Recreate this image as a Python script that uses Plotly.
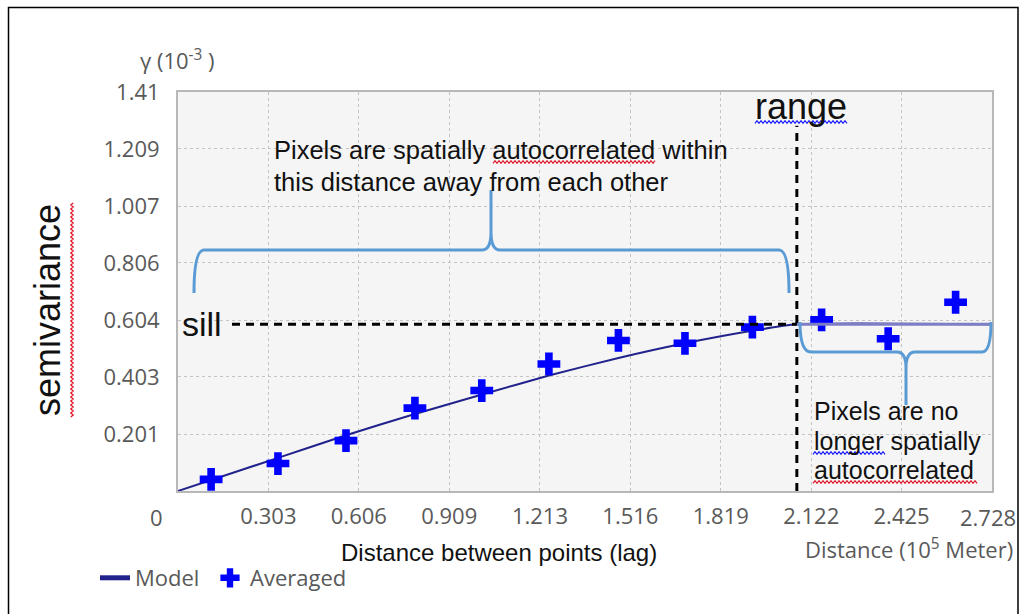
import plotly.graph_objects as go

# ---------------- data ----------------
lag = [0.111, 0.335, 0.563, 0.794, 1.018, 1.243, 1.476, 1.699, 1.925, 2.157, 2.380, 2.606]
averaged = [0.041, 0.097, 0.178, 0.293, 0.355, 0.449, 0.532, 0.522, 0.579, 0.605, 0.538, 0.667]

model_x = [0, 0.335, 0.563, 0.794, 1.019, 1.243, 1.476, 1.699, 1.924, 2.074, 2.728]
model_y = [0, 0.117, 0.197, 0.272, 0.341, 0.408, 0.470, 0.522, 0.566, 0.589, 0.589]

sill = 0.589
range_x = 2.074

x_tickvals = [0, 0.303, 0.606, 0.909, 1.213, 1.516, 1.819, 2.122, 2.425, 2.728]
x_ticktext = ["0", "0.303", "0.606", "0.909", "1.213", "1.516", "1.819", "2.122", "2.425", "2.728"]
y_tickvals = [0.201, 0.403, 0.604, 0.806, 1.007, 1.209, 1.41]
y_ticktext = ["0.201", "0.403", "0.604", "0.806", "1.007", "1.209", "1.41"]

top_note = ["Pixels are spatially autocorrelated within", "this distance away from each other"]
right_note = ["Pixels are no", "longer spatially", "autocorrelated"]

# ---------------- layout helpers ----------------
W, H = 1020, 614
L, R, T, B = 178, 28, 92, 123
PW, PH = W - L - R, H - T - B


def px(x):
    return (x - L) / PW


def py(y):
    return (H - B - y) / PH


TICK_FONT = dict(family="Open Sans", size=22, color="#595959")
TXT = "Liberation Sans"
INK = "#111111"

fig = go.Figure()

fig.add_trace(go.Scatter(
    x=model_x, y=model_y, mode="lines", name="Model",
    line=dict(color="#22228c", width=2, shape="spline", smoothing=0.6),
    showlegend=False,
))
fig.add_trace(go.Scatter(
    x=[None], y=[None], mode="lines", name="Model",
    line=dict(color="#22228c", width=5), legend="legend",
))
fig.add_trace(go.Scatter(
    x=lag, y=averaged, mode="markers", name="Averaged",
    marker=dict(symbol="cross", size=19, color="#0000ff", line=dict(width=0)),
    legend="legend2",
))

shapes = []
# flat part of model after range (lighter)
shapes.append(dict(type="line", xref="x", yref="y", x0=range_x, x1=model_x[-1], y0=sill, y1=sill,
                   line=dict(color="#7e7ec6", width=3), layer="above"))
# sill dashed line
shapes.append(dict(type="line", xref="x", yref="y", x0=0.181, x1=range_x, y0=sill, y1=sill,
                   line=dict(color="black", width=3, dash="8px,6px"), layer="above"))
# range dashed line
shapes.append(dict(type="line", xref="x", yref="y", x0=range_x, x1=range_x, y0=0, y1=1.291,
                   line=dict(color="black", width=3, dash="8px,6px"), layer="above"))


def path_from(pts):
    out = []
    for cmd in pts:
        s = cmd[0]
        coords = cmd[1:]
        for i in range(0, len(coords), 2):
            s += " %.5f,%.5f" % (px(coords[i]), py(coords[i + 1]))
        out.append(s)
    return " ".join(out)


brace_color = "#5b9bd5"
big_brace = path_from([
    ("M", 194, 293), ("Q", 194, 250, 204, 250), ("L", 482, 250), ("Q", 491, 250, 491, 232),
    ("L", 491, 190), ("M", 491, 232), ("Q", 491, 250, 500, 250), ("L", 779, 250),
    ("Q", 789, 250, 789, 293),
])
small_brace = path_from([
    ("M", 800, 322), ("Q", 800, 352, 811, 352), ("L", 897, 352), ("Q", 906, 352, 906, 368),
    ("L", 906, 405), ("M", 906, 368), ("Q", 906, 352, 915, 352), ("L", 982, 352),
    ("Q", 991, 352, 991, 322),
])
for p in (big_brace, small_brace):
    shapes.append(dict(type="path", xref="paper", yref="paper", path=p,
                       line=dict(color=brace_color, width=3), layer="above"))


def squiggle(x0, x1, y, color, vertical=False):
    pts = []
    n = int(abs(x1 - x0) / 2)
    for i in range(n + 1):
        t = x0 + i * 2
        off = 1.3 if i % 2 == 0 else -1.3
        pts.append((y + off, t) if vertical else (t, y + off))
    s = "M " + " L ".join("%.5f,%.5f" % (px(a), py(b)) for a, b in pts)
    return dict(type="path", xref="paper", yref="paper", path=s,
                line=dict(color=color, width=1.2), layer="above")


shapes.append(squiggle(493, 655, 162, "#e0182c"))
shapes.append(squiggle(755, 847, 122, "#1a1aff"))
shapes.append(squiggle(203, 417, 72, "#e0182c", vertical=True))
shapes.append(squiggle(813, 885, 453, "#1a1aff"))
shapes.append(squiggle(813, 977, 482, "#e0182c"))

# outer frame
shapes.append(dict(type="rect", xref="paper", yref="paper", x0=px(8.5), x1=px(1018), y0=py(640), y1=py(7.5),
                   line=dict(color="black", width=1.5), fillcolor="rgba(0,0,0,0)", layer="above"))


def note(text, x, y, font, anchor="left", **kw):
    return dict(text=text, x=px(x), y=py(y), xref="paper", yref="paper", xanchor=anchor,
                yanchor="middle", showarrow=False, font=font, **kw)


def ink(size):
    return dict(family=TXT, size=size, color=INK)


annotations = [
    note(top_note[0], 272, 150, ink(25.5)),
    note(top_note[1], 272, 182, ink(25.5)),
    note(right_note[0], 812, 411, ink(25)),
    note(right_note[1], 812, 441, ink(25)),
    note(right_note[2], 812, 470, ink(25)),
    note("sill", 202, 324, ink(34), "center"),
    note("range", 801, 106, ink(36), "center"),
    note("semivariance", 47, 310, ink(36), "center", textangle=-90),
    note("Distance between points (lag)", 499, 552, ink(24), "center"),
    note("Distance (10<sup>5</sup> Meter)", 803, 548, TICK_FONT),
    note("\u03b3 (10<sup>-3</sup> )", 177, 59, TICK_FONT, "center"),
    # end tick labels, nudged inward as in the reference
    note(x_ticktext[0], 156, 517, TICK_FONT, "center"),
    note(x_ticktext[-1], 988, 517, TICK_FONT, "center"),
]

legend_common = dict(orientation="h", y=py(578), xanchor="left", yanchor="middle",
                     font=TICK_FONT, itemwidth=30, bgcolor="rgba(0,0,0,0)")

fig.update_layout(
    width=W, height=H, autosize=False,
    margin=dict(l=L, r=R, t=T, b=B, autoexpand=False),
    paper_bgcolor="white", plot_bgcolor="#f5f5f5",
    shapes=shapes, annotations=annotations,
    legend=dict(x=px(95), **legend_common),
    legend2=dict(x=px(210), **legend_common),
    xaxis=dict(range=[0, 2.728], tickvals=x_tickvals[1:-1], ticktext=x_ticktext[1:-1],
               showgrid=True, gridcolor="#c4c4c4", griddash="dot", gridwidth=1,
               showline=True, linecolor="#b8b8b8", linewidth=2, mirror=True, automargin=False,
               zeroline=False, ticks="", tickfont=TICK_FONT, ticklabelstandoff=5),
    yaxis=dict(range=[0, 1.41], tickvals=y_tickvals, ticktext=y_ticktext,
               showgrid=True, gridcolor="#c4c4c4", griddash="dot", gridwidth=1,
               showline=True, linecolor="#b8b8b8", linewidth=2, mirror=True, automargin=False,
               zeroline=False, ticks="", tickfont=TICK_FONT, ticklabelstandoff=12),
)

fig.write_html("out.html")
